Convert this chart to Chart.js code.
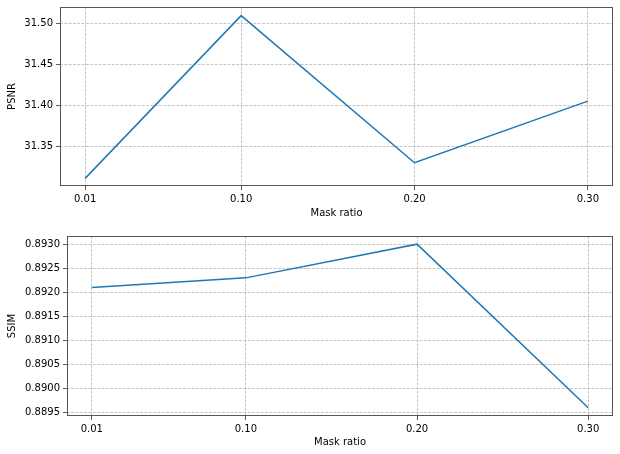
<!DOCTYPE html>
<html>
<head>
<meta charset="utf-8">
<script src="https://cdn.jsdelivr.net/npm/chart.js@4/dist/chart.umd.min.js"></script>
<style>
html,body{margin:0;padding:0;background:#fff;}
#wrap{position:relative;width:620px;height:454px;}
.box{position:absolute;left:0;width:620px;height:227px;}
</style>
</head>
<body>
<div id="wrap">
  <div class="box" style="top:0"><canvas id="c1" width="620" height="227"></canvas></div>
  <div class="box" style="top:227px"><canvas id="c2" width="620" height="227"></canvas></div>
</div>
<script>
// ---- data ----
const maskRatios = [0.01, 0.10, 0.20, 0.30];
const psnrValues = [31.311, 31.509, 31.330, 31.405];
const ssimValues = [0.8921, 0.8923, 0.8930, 0.8896];
const xTickValues = [0.01, 0.10, 0.20, 0.30];
const psnrTickValues = [31.35, 31.40, 31.45, 31.50];
const ssimTickValues = [0.8895, 0.8900, 0.8905, 0.8910, 0.8915, 0.8920, 0.8925, 0.8930];
const xTitle = "Mask ratio";

const FONT = {family: "'DejaVu Sans', sans-serif", size: 10};
const GRID_COLOR = '#b8b8b8';
const FRAME_COLOR = '#555555';
const DASH = [3, 1.3];

const framePlugin = {
  id: 'frame',
  afterDraw(chart) {
    const {ctx, chartArea: a} = chart;
    ctx.save();
    ctx.strokeStyle = FRAME_COLOR;
    ctx.lineWidth = 1;
    ctx.setLineDash([]);
    ctx.strokeRect(Math.round(a.left) + 0.5, Math.round(a.top) + 0.5,
                   Math.round(a.right - a.left) - 1, Math.round(a.bottom - a.top) - 1);
    ctx.restore();
  }
};

function makeChart(id, values, yTicks, yMin, yMax, yTitle, yDecimals, yWidth, xHeight, padTop, xTitleOffset) {
  const xMin = -0.0045, xMax = 0.3145;
  return new Chart(document.getElementById(id), {
    type: 'line',
    data: {
      datasets: [{
        data: maskRatios.map((x, i) => ({x: x, y: values[i]})),
        borderColor: '#1f77b4',
        borderWidth: 1.5,
        pointRadius: 0,
        tension: 0,
        fill: false
      }]
    },
    options: {
      responsive: false,
      animation: false,
      events: [],
      layout: {padding: {left: 0, top: padTop, right: 7, bottom: 0}},
      plugins: {legend: {display: false}, tooltip: {enabled: false}},
      scales: {
        x: {
          type: 'linear',
          min: xMin, max: xMax,
          afterBuildTicks: s => { s.ticks = xTickValues.map(v => ({value: v})); },
          afterFit: s => { s.height = xHeight; s.paddingLeft = 0; s.paddingRight = 0; },
          ticks: {
            font: FONT, color: '#000', padding: 3, maxRotation: 0, autoSkip: false,
            callback: v => Number(v).toFixed(2)
          },
          grid: {
            color: GRID_COLOR, lineWidth: 0.8,
            drawTicks: true, tickLength: 4, tickColor: '#333', tickWidth: 0.8, tickBorderDash: []
          },
          border: {display: false, dash: DASH},
          title: {display: true, text: xTitle, font: FONT, color: '#000', padding: {top: 0, bottom: xTitleOffset}}
        },
        y: {
          type: 'linear',
          min: yMin, max: yMax,
          afterBuildTicks: s => { s.ticks = yTicks.map(v => ({value: v})); },
          afterFit: s => { s.width = yWidth; s.paddingTop = 0; s.paddingBottom = 0; },
          ticks: {
            font: FONT, color: '#000', padding: 3, autoSkip: false,
            callback: v => Number(v).toFixed(yDecimals)
          },
          grid: {
            color: GRID_COLOR, lineWidth: 0.8,
            drawTicks: true, tickLength: 4, tickColor: '#333', tickWidth: 0.8, tickBorderDash: []
          },
          border: {display: false, dash: DASH},
          title: {display: true, text: yTitle, font: FONT, color: '#000', padding: {top: 6, bottom: 0}}
        }
      }
    },
    plugins: [framePlugin]
  });
}

makeChart('c1', psnrValues, psnrTickValues, 31.3017, 31.5195, 'PSNR', 2, 60, 41, 7, 8);
makeChart('c2', ssimValues, ssimTickValues, 0.88943, 0.89317, 'SSIM', 4, 67, 38, 9, 6);
</script>
</body>
</html>
